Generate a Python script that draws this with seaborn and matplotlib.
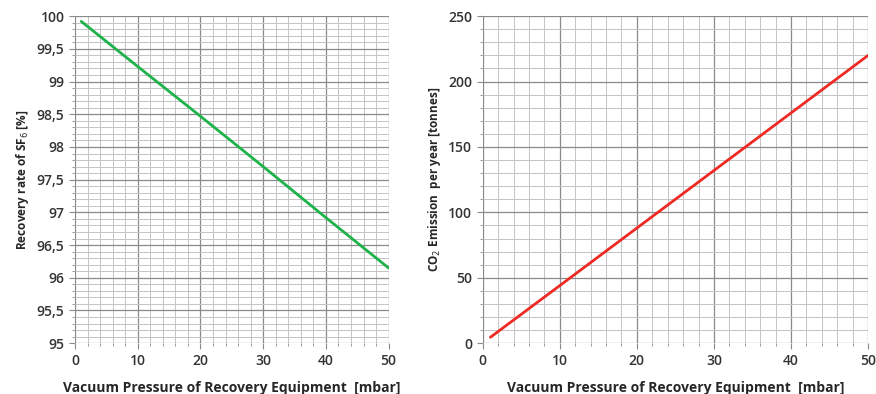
import matplotlib.pyplot as plt
import seaborn as sns
import numpy as np
from matplotlib.ticker import MultipleLocator, FuncFormatter

sns.set_style("white")
plt.rcParams['font.family'] = ['Open Sans', 'DejaVu Sans']

# data
pressure = [1, 10, 20, 30, 40, 50]
recovery_rate = [99.92, 99.23, 98.47, 97.70, 96.92, 96.15]
co2_emission = [4.5, 44, 88, 132, 176, 220]

fig = plt.figure(figsize=(8.76, 3.94), dpi=100)
ax1 = fig.add_axes([0.0856, 0.129, 0.358, 0.830])
ax2 = fig.add_axes([0.551, 0.129, 0.440, 0.830])

sns.lineplot(x=pressure, y=recovery_rate, ax=ax1, color="#1db34a", linewidth=2)
sns.lineplot(x=pressure, y=co2_emission, ax=ax2, color="#ee2a24", linewidth=2)

ax1.set_ylim(95, 100)
ax1.yaxis.set_major_locator(MultipleLocator(0.5))
ax1.yaxis.set_minor_locator(MultipleLocator(0.1))
ax1.yaxis.set_major_formatter(FuncFormatter(lambda v, p: f"{v:g}".replace(".", ",")))
ax1.set_ylabel("Recovery rate of SF$_6$ [%]", fontsize=8.5, fontweight="bold")

ax2.set_ylim(0, 250)
ax2.yaxis.set_major_locator(MultipleLocator(50))
ax2.yaxis.set_minor_locator(MultipleLocator(10))
ax2.set_ylabel("CO$_2$ Emission  per year [tonnes]", fontsize=8.5, fontweight="bold")

for ax in (ax1, ax2):
    ax.set_xlim(0, 50)
    ax.xaxis.set_major_locator(MultipleLocator(10))
    ax.xaxis.set_minor_locator(MultipleLocator(2))
    ax.grid(which="major", color="#8a8a8a", linewidth=0.9)
    ax.grid(which="minor", color="#c4c4c4", linewidth=0.7)
    ax.set_axisbelow(True)
    for s in ax.spines.values():
        s.set_visible(False)
    ax.tick_params(which="both", direction="out", color="#8a8a8a",
                   labelsize=10, labelcolor="#333333", bottom=True, left=True)
    ax.tick_params(which="major", length=4)
    ax.tick_params(which="minor", length=2.5)
    ax.set_xlabel("Vacuum Pressure of Recovery Equipment  [mbar]",
                  fontsize=10, fontweight="bold", labelpad=10)
    for lbl in ax.get_xticklabels() + ax.get_yticklabels():
        lbl.set_fontweight("semibold")

fig.savefig("out.png", dpi=100)
